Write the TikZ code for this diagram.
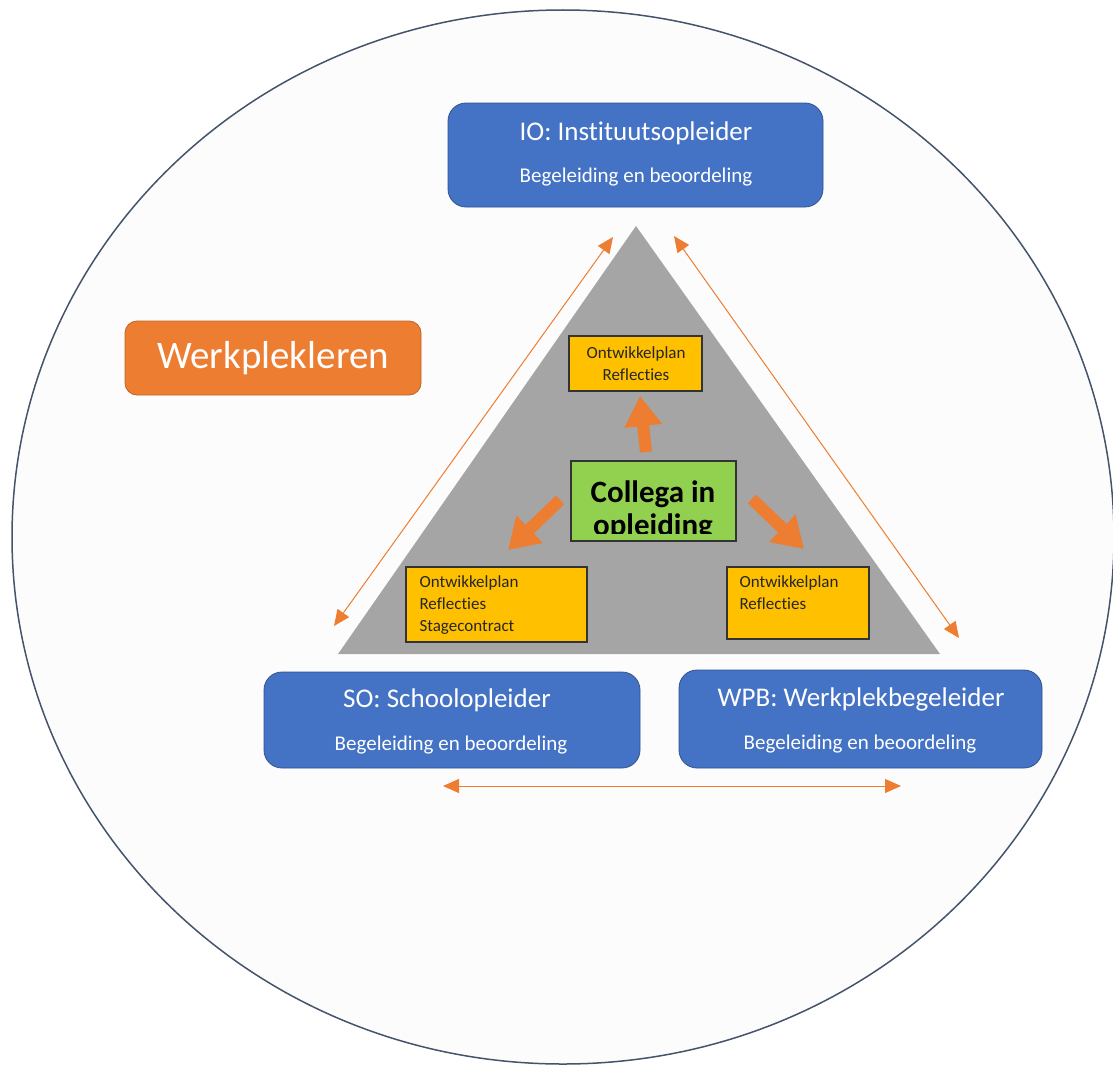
\documentclass[tikz,border=0pt]{standalone}
\usepackage{fontspec}
\setmainfont{Carlito}[Ligatures=NoCommon]
\usetikzlibrary{arrows.meta}

\definecolor{rolefill}{HTML}{4472C4}
\definecolor{roleline}{HTML}{2F528F}
\definecolor{orangefill}{HTML}{ED7D31}
\definecolor{goldfill}{HTML}{FFC000}
\definecolor{greenfill}{HTML}{92D050}
\definecolor{trianglefill}{HTML}{A5A5A5}
\definecolor{ringline}{HTML}{44546A}

\tikzset{
  rolebox/.style={draw=roleline, fill=rolefill, line width=0.8pt, rounded corners=18pt},
  roletitle/.style={text=white, font=\fontsize{27}{30}\selectfont},
  rolesub/.style={text=white, font=\fontsize{21}{24}\selectfont},
  docbox/.style={draw=black!80, fill=goldfill, line width=1.2pt},
  doctext/.style={text=black!85, font=\fontsize{17}{22}\selectfont},
  linkarrow/.style={draw=orangefill, line width=1pt,
    {Triangle[length=16pt,width=14pt]}-{Triangle[length=16pt,width=14pt]}},
  flowarrow/.style={draw=orangefill, line width=12pt,
    -{Triangle[length=30pt,width=36pt]}},
}

\begin{document}
\begin{tikzpicture}[x=1pt,y=-1pt]
  \useasboundingbox (0,0) rectangle (1113,1065);

  % Drawing ring round everything
  \draw [ringline, fill=black!1, line width=1.5pt] (563,537) ellipse (551 and 527);

  % Drawing triangle
  \fill [trianglefill] (636,226) -- (940,654) -- (338,654) -- cycle;

  % Drawing role boxes
  \draw [rolebox] (448,103) rectangle (823,207);
  \node (io) [roletitle] at (636,133) {IO: Instituutsopleider};
  \node (io-sub) [rolesub] at (636,177) {Begeleiding en beoordeling};

  \draw [rolebox] (264,672) rectangle (640,768);
  \node (so) [roletitle] at (447,700) {SO: Schoolopleider};
  \node (so-sub) [rolesub] at (451,745) {Begeleiding en beoordeling};

  \draw [rolebox] (679,670) rectangle (1042,768);
  \node (wpb) [roletitle] at (861,699) {WPB: Werkplekbegeleider};
  \node (wpb-sub) [rolesub] at (860,744) {Begeleiding en beoordeling};

  % Marking label Werkplekleren
  \node (wpl) [fill=orangefill, draw=orangefill!80!black, line width=0.8pt,
    rounded corners=12pt, minimum width=296pt, minimum height=74pt,
    text=white, font=\fontsize{39}{42}\selectfont] at (273,358) {Werkplekleren};

  % Drawing document boxes
  \draw [docbox] (569,336) rectangle (702,391);
  \node (doc-top) [doctext, align=center] at (636,364) {Ontwikkelplan\\Reflecties};

  \draw [docbox] (406,567) rectangle (587,642);
  \node (doc-left) [doctext, align=left, anchor=north west] at (416,572)
    {Ontwikkelplan\\Reflecties\\Stagecontract};

  \draw [docbox] (727,567) rectangle (869,639);
  \node (doc-right) [doctext, align=left, anchor=north west] at (736,572)
    {Ontwikkelplan\\Reflecties};

  % Drawing centre box, text cut at its lower edge
  \fill [greenfill] (571,461) rectangle (736,541);
  \begin{scope}
    \clip (571,461) rectangle (736,533);
    \node (coi) [font=\bfseries\fontsize{31}{33}\selectfont, anchor=base] at (653,502) {Collega in};
    \node (coi-2) [font=\bfseries\fontsize{31}{33}\selectfont, anchor=base] at (653,535) {opleiding};
  \end{scope}
  \draw [black!80, line width=1.2pt] (571,461) rectangle (736,541);

  % Drawing arrows from centre
  \coordinate (up-tail) at (646,452);
  \coordinate (up-tip) at (640,396);
  \coordinate (left-tail) at (560,500);
  \coordinate (left-tip) at (508,550);
  \coordinate (right-tail) at (752,499);
  \coordinate (right-tip) at (804,549);
  \draw [flowarrow] (up-tail) -- (up-tip);
  \draw [flowarrow] (left-tail) -- (left-tip);
  \draw [flowarrow] (right-tail) -- (right-tip);

  % Drawing links between roles
  \coordinate (io-left) at (613,237);
  \coordinate (so-top) at (334,626);
  \coordinate (io-right) at (674,236);
  \coordinate (wpb-top) at (959,638);
  \coordinate (so-right) at (443,786);
  \coordinate (wpb-left) at (901,786);
  \draw [linkarrow] (io-left) -- (so-top);
  \draw [linkarrow] (io-right) -- (wpb-top);
  \draw [linkarrow] (so-right) -- (wpb-left);
\end{tikzpicture}
\end{document}
